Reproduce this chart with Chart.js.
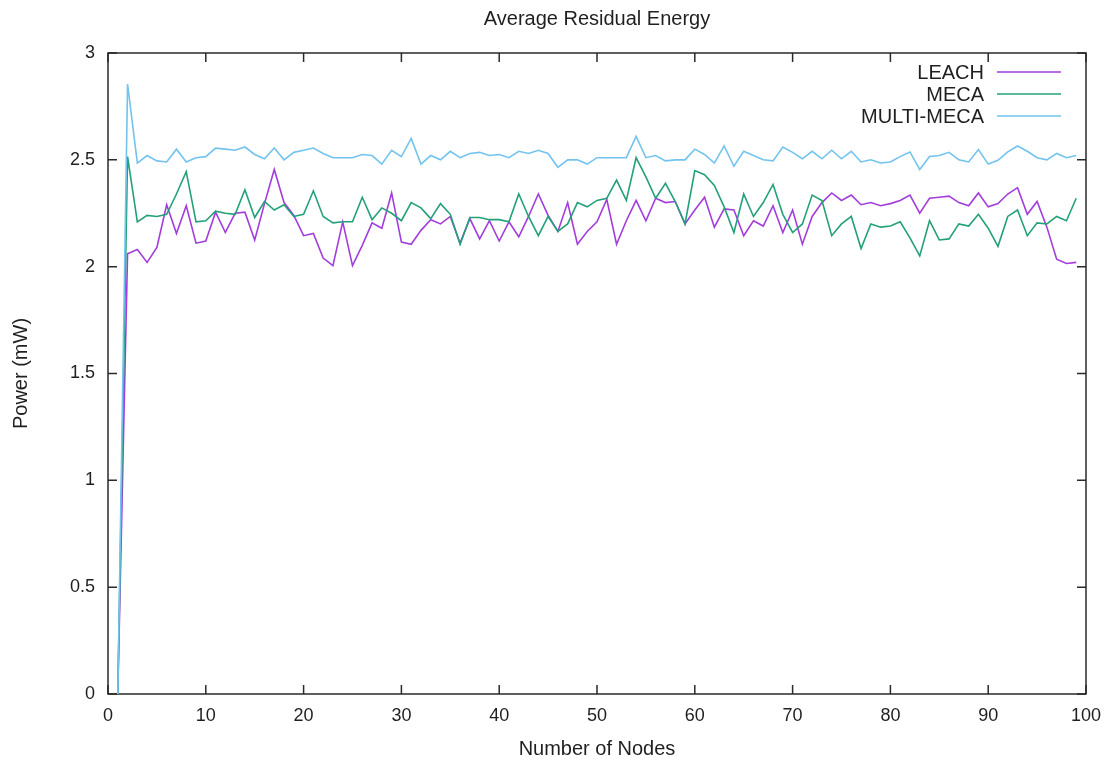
<!DOCTYPE html>
<html>
<head>
<meta charset="utf-8">
<script src="https://cdn.jsdelivr.net/npm/chart.js@4.4.1/dist/chart.umd.min.js"></script>
<style>
  html, body { margin: 0; padding: 0; background: #fff; }
  #wrap { width: 1113px; height: 762px; }
</style>
</head>
<body>
<div id="wrap"><canvas id="c" width="1113" height="762"></canvas></div>
<script>
const nodes = [1,2,3,4,5,6,7,8,9,10,11,12,13,14,15,16,17,18,19,20,21,22,23,24,25,26,27,28,29,30,31,32,33,34,35,36,37,38,39,40,41,42,43,44,45,46,47,48,49,50,51,52,53,54,55,56,57,58,59,60,61,62,63,64,65,66,67,68,69,70,71,72,73,74,75,76,77,78,79,80,81,82,83,84,85,86,87,88,89,90,91,92,93,94,95,96,97,98,99];

const leach = [0,2.06,2.08,2.02,2.09,2.29,2.155,2.285,2.11,2.12,
  2.255,2.16,2.25,2.255,2.125,2.295,2.455,2.30,2.24,2.145,
  2.155,2.04,2.005,2.21,2.005,2.10,2.205,2.18,2.345,2.115,
  2.105,2.17,2.22,2.20,2.235,2.11,2.225,2.13,2.215,2.12,
  2.21,2.14,2.235,2.34,2.24,2.165,2.30,2.105,2.165,2.21,
  2.315,2.105,2.215,2.31,2.215,2.32,2.30,2.305,2.20,2.265,
  2.325,2.185,2.27,2.265,2.145,2.215,2.19,2.285,2.16,2.265,
  2.105,2.235,2.30,2.345,2.31,2.335,2.29,2.30,2.285,2.295,
  2.31,2.335,2.25,2.32,2.325,2.33,2.30,2.285,2.345,2.28,
  2.295,2.34,2.37,2.245,2.305,2.185,2.035,2.015,2.02];

const meca = [0,2.515,2.21,2.24,2.235,2.245,2.34,2.445,2.21,2.215,
  2.26,2.25,2.245,2.36,2.23,2.305,2.265,2.29,2.235,2.245,
  2.355,2.235,2.205,2.21,2.21,2.325,2.22,2.275,2.25,2.215,
  2.30,2.275,2.225,2.295,2.245,2.105,2.23,2.23,2.22,2.22,
  2.21,2.34,2.235,2.145,2.235,2.165,2.20,2.30,2.28,2.31,
  2.32,2.405,2.31,2.51,2.42,2.32,2.39,2.305,2.20,2.45,
  2.43,2.38,2.28,2.16,2.34,2.235,2.30,2.385,2.245,2.16,
  2.20,2.335,2.31,2.145,2.20,2.235,2.085,2.20,2.185,2.19,
  2.21,2.135,2.05,2.215,2.125,2.13,2.20,2.19,2.245,2.18,
  2.095,2.235,2.265,2.145,2.205,2.20,2.235,2.215,2.32];

const multiMeca = [0,2.855,2.485,2.52,2.495,2.49,2.55,2.49,2.51,2.515,
  2.555,2.55,2.545,2.56,2.525,2.505,2.555,2.50,2.535,2.545,
  2.555,2.53,2.51,2.51,2.51,2.525,2.52,2.48,2.545,2.515,
  2.60,2.48,2.52,2.50,2.54,2.51,2.53,2.535,2.52,2.525,
  2.51,2.54,2.53,2.545,2.53,2.465,2.50,2.50,2.48,2.51,
  2.51,2.51,2.51,2.61,2.51,2.52,2.495,2.50,2.50,2.55,
  2.525,2.485,2.565,2.47,2.54,2.52,2.50,2.495,2.56,2.535,
  2.505,2.54,2.505,2.545,2.505,2.54,2.49,2.50,2.485,2.49,
  2.515,2.537,2.455,2.516,2.52,2.535,2.50,2.49,2.548,2.48,
  2.498,2.537,2.565,2.54,2.51,2.50,2.53,2.51,2.52];

const seriesNames = ['LEACH', 'MECA', 'MULTI-MECA'];
const seriesColors = ['#a23ddc', '#23a07a', '#72c3ee'];
const xTicks = [0,10,20,30,40,50,60,70,80,90,100];
const yTicks = [0,0.5,1,1.5,2,2.5,3];
const yTickLabels = ['0','0.5','1','1.5','2','2.5','3'];

const FONT = "'Liberation Sans', Arial, Helvetica, sans-serif";
const TXT = '#1f1f1f';

function pts(arr) { return nodes.map((n, i) => ({ x: n, y: arr[i] })); }

const frame = {
  id: 'frame',
  beforeDatasetsDraw(chart) {
    const { ctx, chartArea: a, scales: { x, y } } = chart;
    ctx.save();
    ctx.strokeStyle = '#2a2a2a';
    ctx.lineWidth = 1.5;
    const tl = 9;
    ctx.beginPath();
    xTicks.forEach(v => {
      const px = x.getPixelForValue(v);
      ctx.moveTo(px, a.bottom); ctx.lineTo(px, a.bottom - tl);
      ctx.moveTo(px, a.top); ctx.lineTo(px, a.top + tl);
    });
    yTicks.forEach(v => {
      const py = y.getPixelForValue(v);
      ctx.moveTo(a.left, py); ctx.lineTo(a.left + tl, py);
      ctx.moveTo(a.right, py); ctx.lineTo(a.right - tl, py);
    });
    ctx.stroke();
    ctx.strokeRect(a.left, a.top, a.right - a.left, a.bottom - a.top);
    ctx.restore();
  },
  afterDraw(chart) {
    const { ctx } = chart;
    ctx.save();
    ctx.font = '20px ' + FONT;
    ctx.textAlign = 'right';
    ctx.textBaseline = 'middle';
    chart.data.datasets.forEach((ds, i) => {
      const yy = 72 + i * 22;
      ctx.fillStyle = TXT;
      ctx.fillText(ds.label, 984, yy + 1);
      ctx.strokeStyle = ds.borderColor;
      ctx.lineWidth = 1.6;
      ctx.beginPath();
      ctx.moveTo(997, yy); ctx.lineTo(1061, yy);
      ctx.stroke();
    });
    ctx.restore();
  }
};

new Chart(document.getElementById('c'), {
  type: 'line',
  data: {
    datasets: [
      { label: seriesNames[0], data: pts(leach), borderColor: seriesColors[0], order: 3 },
      { label: seriesNames[1], data: pts(meca), borderColor: seriesColors[1], order: 2 },
      { label: seriesNames[2], data: pts(multiMeca), borderColor: seriesColors[2], order: 1 }
    ].map(d => Object.assign(d, { borderWidth: 1.6, pointRadius: 0, tension: 0, fill: false }))
  },
  options: {
    responsive: false,
    animation: false,
    devicePixelRatio: 1,
    layout: { padding: { left: 0, right: 27, top: 0, bottom: 0 } },
    plugins: {
      legend: { display: false },
      tooltip: { enabled: false },
      title: {
        display: true,
        text: 'Average Residual Energy',
        fullSize: false,
        color: TXT,
        font: { family: FONT, size: 20, weight: 'normal' },
        padding: { top: 7, bottom: 22 }
      }
    },
    scales: {
      x: {
        type: 'linear',
        min: 0, max: 100,
        afterFit: s => { s.height = 68; },
        afterBuildTicks: s => { s.ticks = xTicks.map(v => ({ value: v })); },
        grid: { display: false, drawTicks: false },
        border: { display: false },
        ticks: { color: TXT, font: { family: FONT, size: 18 }, padding: 11, maxRotation: 0, autoSkip: false,
                 callback: v => String(v) },
        title: { display: true, text: 'Number of Nodes', color: TXT, font: { family: FONT, size: 20 }, padding: { top: 0, bottom: 1 } }
      },
      y: {
        type: 'linear',
        min: 0, max: 3,
        afterFit: s => { s.width = 108; },
        afterBuildTicks: s => { s.ticks = yTicks.map(v => ({ value: v })); },
        grid: { display: false, drawTicks: false },
        border: { display: false },
        ticks: { color: TXT, font: { family: FONT, size: 18 }, padding: 13, autoSkip: false,
                 callback: (v, i) => yTickLabels[i] },
        title: { display: true, text: 'Power (mW)', color: TXT, font: { family: FONT, size: 20 }, padding: { top: 9.5, bottom: 0 } }
      }
    }
  },
  plugins: [frame]
});
</script>
</body>
</html>
